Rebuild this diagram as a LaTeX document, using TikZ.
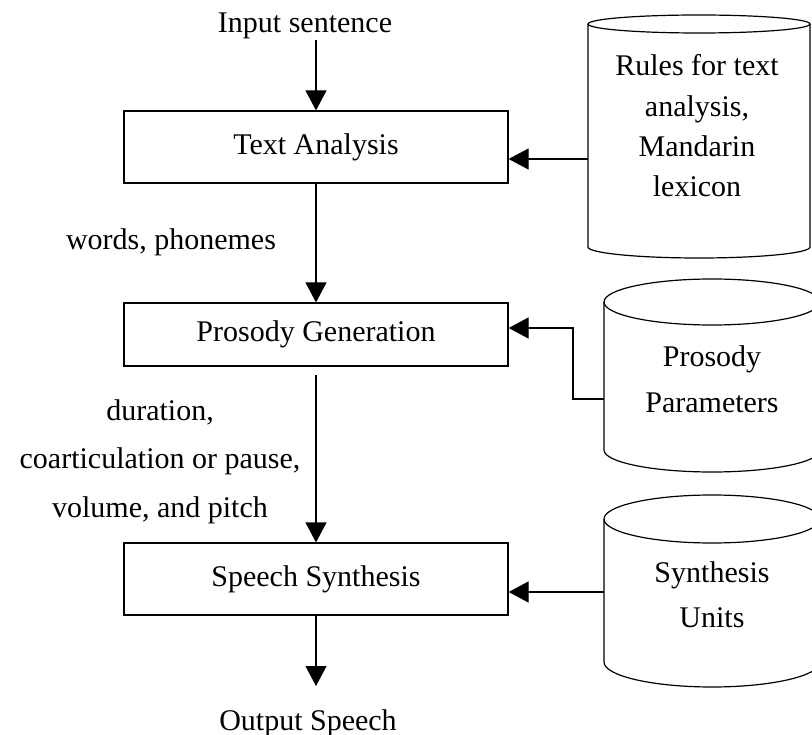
\documentclass[tikz,border=0pt]{standalone}
\usepackage{fontspec}
\setmainfont{Liberation Serif}
\usetikzlibrary{arrows.meta}
\begin{document}
\begin{tikzpicture}[x=1pt,y=-1pt,
  line width=1.2pt,
  proc/.style={draw, minimum width=384pt, inner sep=0pt, font=\fontsize{30}{36}\selectfont},
  lbl/.style={inner sep=0pt, font=\fontsize{30}{36}\selectfont},
  arr/.style={-{Triangle[width=21pt,length=20pt]}},
  cyl/.style={line width=1.2pt}]
\clip (0,0) rectangle (812,735);
\useasboundingbox (0,0) rectangle (812,735);
% process boxes
\node[proc, minimum height=72pt] (ta) at (316,147) {Text Analysis};
\node[proc, minimum height=63pt] (pg) at (316,334.5) {Prosody Generation};
\node[proc, minimum height=72pt] (ss) at (316,579) {Speech Synthesis};
% labels
\node[lbl, anchor=base] (inp) at (305,33) {Input sentence};
\node[lbl, anchor=base] (out) at (308,730) {Output Speech};
\node[lbl, anchor=base] (wp) at (171,250) {words, phonemes};
\node[lbl, align=center, font=\fontsize{30}{48.5}\selectfont] (dur) at (160,461.5) {duration,\\coarticulation or pause,\\volume, and pitch};
% cylinders
\draw[cyl] (588,24) -- (588,247) arc[start angle=180,end angle=360,x radius=111pt,y radius=11pt] -- (810,24);
\draw[cyl] (699,24) ellipse[x radius=111pt, y radius=9pt];
\draw[cyl] (604,302) -- (604,450) arc[start angle=180,end angle=360,x radius=108pt,y radius=22pt] -- (820,302);
\draw[cyl] (712,302) ellipse[x radius=108pt, y radius=23pt];
\draw[cyl] (604,519) -- (604,662) arc[start angle=180,end angle=360,x radius=108pt,y radius=25pt] -- (820,519);
\draw[cyl] (712,519) ellipse[x radius=108pt, y radius=24pt];
\node[lbl, align=center, font=\fontsize{30}{40.3}\selectfont] (db1) at (697,126) {Rules for text\\analysis,\\Mandarin\\lexicon};
\node[lbl, align=center, font=\fontsize{30}{46.5}\selectfont] (db2) at (712,379) {Prosody\\Parameters};
\node[lbl, align=center, font=\fontsize{30}{45}\selectfont] (db3) at (712,595) {Synthesis\\Units};
% connector ends
\coordinate (c1) at (588,159);
\coordinate (c2) at (604,399);
\coordinate (k2) at (573,399);
\coordinate (k2b) at (573,328);
\coordinate (c3) at (604,592);
\coordinate (ps) at (316,375);
\coordinate (oe) at (316,686);
% main flow
\draw[arr] (ta.north |- inp.south) -- (ta.north);
\draw[arr] (ta.south) -- (pg.north);
\draw[arr] (ps) -- (ss.north);
\draw[arr] (ss.south) -- (oe);
% side inputs
\draw[arr] (c1) -- (c1 -| ta.east);
\draw[arr] (c2) -- (k2) -- (k2b) -- (k2b -| pg.east);
\draw[arr] (c3) -- (c3 -| ss.east);
\end{tikzpicture}
\end{document}
